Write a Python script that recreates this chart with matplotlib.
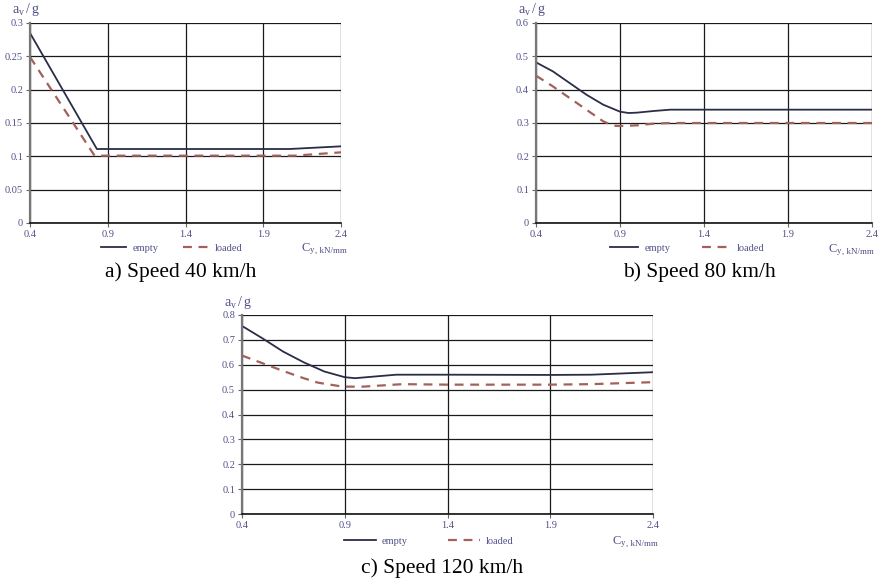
import numpy as np
import matplotlib
matplotlib.use('Agg')
import matplotlib.pyplot as plt

plt.rcParams['font.family'] = ['Liberation Serif', 'DejaVu Serif']

# x values (stiffness C_y, kN/mm) and a_v/g readings
x_ticks = [0.4, 0.9, 1.4, 1.9, 2.4]

# a) 40 km/h
a_empty_x = [0.4, 0.83, 1.4, 1.9, 2.07, 2.4]
a_empty_y = [0.285, 0.111, 0.111, 0.111, 0.111, 0.115]
a_loaded_x = [0.4, 0.815, 1.4, 1.9, 2.1, 2.4]
a_loaded_y = [0.249, 0.101, 0.101, 0.101, 0.101, 0.106]

# b) 80 km/h
b_empty_x = [0.4, 0.5, 0.6, 0.7, 0.8, 0.9, 0.95, 1.0, 1.1, 1.2, 1.4, 1.9, 2.4]
b_empty_y = [0.482, 0.455, 0.42, 0.385, 0.355, 0.334, 0.330, 0.331, 0.336, 0.340, 0.340, 0.340, 0.340]
b_loaded_x = [0.4, 0.5, 0.6, 0.7, 0.8, 0.86, 0.9, 1.0, 1.1, 1.2, 1.9, 2.4]
b_loaded_y = [0.442, 0.41, 0.375, 0.34, 0.305, 0.292, 0.291, 0.293, 0.298, 0.300, 0.300, 0.300]

# c) 120 km/h
c_empty_x = [0.4, 0.5, 0.6, 0.7, 0.8, 0.9, 0.95, 1.05, 1.15, 1.4, 1.9, 2.1, 2.4]
c_empty_y = [0.756, 0.706, 0.653, 0.61, 0.573, 0.55, 0.546, 0.553, 0.560, 0.560, 0.559, 0.560, 0.570]
c_loaded_x = [0.4, 0.5, 0.6, 0.7, 0.77, 0.89, 0.99, 1.18, 1.4, 1.9, 2.1, 2.4]
c_loaded_y = [0.637, 0.606, 0.575, 0.546, 0.528, 0.512, 0.512, 0.522, 0.520, 0.520, 0.522, 0.530]

panels = [
    dict(box=(30, 341, 23, 223), ymax=0.3, ystep=0.05, ylabels=['0', '0.05', '0.1', '0.15', '0.2', '0.25', '0.3'],
         empty=(a_empty_x, a_empty_y), loaded=(a_loaded_x, a_loaded_y),
         caption='a) Speed 40 km/h', cap_y=272, leg=(0.455, -0.125), hl=2.4, cs=2.4, cy=(301, 249)),
    dict(box=(536, 872, 23, 223), ymax=0.6, ystep=0.1, ylabels=['0', '0.1', '0.2', '0.3', '0.4', '0.5', '0.6'],
         empty=(b_empty_x, b_empty_y), loaded=(b_loaded_x, b_loaded_y),
         caption='b) Speed 80 km/h', cap_y=272, leg=(0.45, -0.125), hl=2.7, cs=3.0, cy=(828, 250)),
    dict(box=(242, 653, 315, 514), ymax=0.8, ystep=0.1,
         ylabels=['0', '0.1', '0.2', '0.3', '0.4', '0.5', '0.6', '0.7', '0.8'],
         empty=(c_empty_x, c_empty_y), loaded=(c_loaded_x, c_loaded_y),
         caption='c) Speed 120 km/h', cap_y=568, leg=(0.455, -0.135), hl=3.0, cs=3.9, cy=(612, 542)),
]

W, H = 885, 585
fig = plt.figure(figsize=(W / 100, H / 100), dpi=100)

tick_col = '#50508a'
empty_col = '#2a2d48'
loaded_col = '#a2615a'

for p in panels:
    l, r, t, b = p['box']
    ax = fig.add_axes([l / W, (H - b) / H, (r - l) / W, (b - t) / H])
    ax.plot(*p['empty'], color=empty_col, lw=1.3, label='empty')
    ax.plot(*p['loaded'], color=loaded_col, lw=1.6, ls=(0, (4, 3)), label='loaded')
    ax.set_xlim(0.4, 2.4)
    ax.set_ylim(0, p['ymax'])
    ax.set_xticks(x_ticks)
    ax.set_xticklabels([f'{v:.1f}' for v in x_ticks])
    yt = np.arange(len(p['ylabels'])) * p['ystep']
    ax.set_yticks(yt)
    ax.set_yticklabels(p['ylabels'])
    ax.grid(True, color='#1a1a1a', lw=0.9)
    ax.set_axisbelow(True)
    for s in ['top', 'right']:
        ax.spines[s].set_visible(False)
    ax.spines['left'].set_color('#777777')
    ax.spines['left'].set_linewidth(1.6)
    ax.spines['bottom'].set_color('#111111')
    ax.spines['bottom'].set_linewidth(1.2)
    ax.tick_params(labelsize=7.5, colors='#666666', labelcolor=tick_col, length=3, width=0.8, pad=2)
    leg = ax.legend(loc='center', bbox_to_anchor=p['leg'], ncol=2, frameon=False, fontsize=7.5,
                    handlelength=p['hl'], columnspacing=p['cs'], handletextpad=0.6)
    for txt in leg.get_texts():
        txt.set_color(tick_col)
    # y axis name sits above the top-left corner
    fig.text((l - 18) / W, 1 - (t - 13) / H, r'$\mathregular{a_v\,/\,g}$', fontsize=10,
             color=tick_col, ha='left', va='center')
    cx, cyy = p['cy']
    fig.text(cx / W, 1 - cyy / H, r'$\mathregular{C_y}$', fontsize=9,
             color=tick_col, ha='left', va='center')
    fig.text((cx + 14) / W, 1 - (cyy + 2) / H, ', kN/mm', fontsize=6.5,
             color=tick_col, ha='left', va='center')
    fig.text(((l + r) / 2 - 5) / W, 1 - p['cap_y'] / H, p['caption'], fontsize=15.5,
             ha='center', va='center', color='black')

fig.savefig('out.png', dpi=100)
